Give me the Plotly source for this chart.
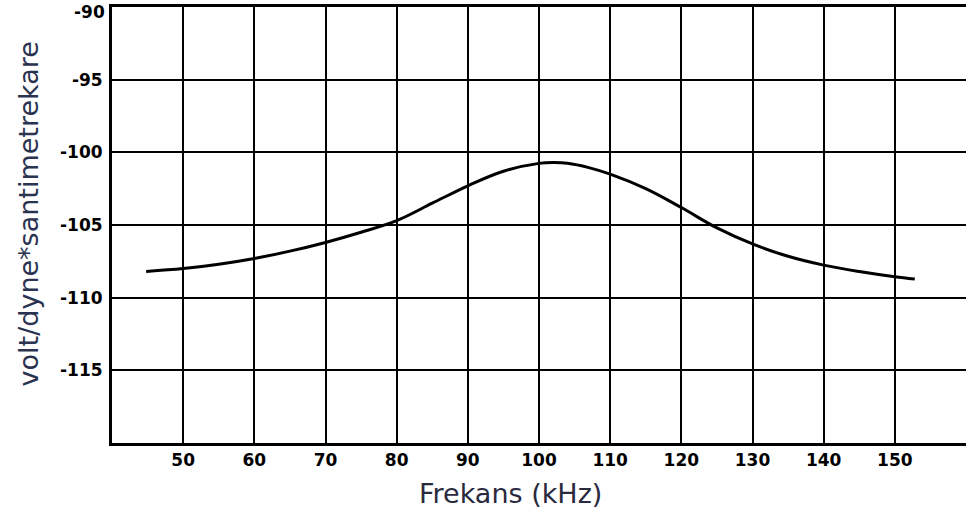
import plotly.graph_objects as go

# Data
freq_khz = [44.8, 50, 55, 60, 65, 70, 75, 80, 85, 90, 95, 100, 102, 104, 107, 110, 115, 120, 125, 130, 135, 140, 145, 150, 152.8]
response = [-108.2, -108.0, -107.7, -107.3, -106.8, -106.2, -105.5, -104.7, -103.5, -102.3, -101.3, -100.76, -100.7, -100.75, -101.05, -101.5, -102.5, -103.8, -105.2, -106.3, -107.15, -107.76, -108.2, -108.56, -108.72]

x_ticks = [50, 60, 70, 80, 90, 100, 110, 120, 130, 140, 150]
y_ticks = [-95, -100, -105, -110, -115]
y_tick_text = ["-95", "-100", "-105", "-110", "-115"]
y_top_text = "-90"

x_title = "Frekans (kHz)"
y_title = "volt/dyne*santimetrekare"

fig = go.Figure()
fig.add_trace(go.Scatter(
    x=freq_khz, y=response, mode="lines",
    line=dict(color="black", width=3, shape="spline", smoothing=1.0),
    hoverinfo="skip", showlegend=False,
))

tickfont = dict(family="DejaVu Sans", size=17, color="black", weight="bold")

fig.update_layout(
    width=966, height=514,
    margin=dict(l=112, r=0, t=7, b=71),
    paper_bgcolor="white", plot_bgcolor="white",
    showlegend=False,
    xaxis=dict(
        range=[40, 160], tickvals=x_ticks, ticktext=[str(v) for v in x_ticks],
        showgrid=True, gridcolor="black", gridwidth=1.8,
        showline=True, linecolor="black", linewidth=3, mirror=True,
        zeroline=False, ticks="", tickfont=tickfont, ticklabelstandoff=0,
    ),
    yaxis=dict(
        range=[-120, -90], tickvals=y_ticks, ticktext=y_tick_text,
        showgrid=True, gridcolor="black", gridwidth=1.8,
        showline=True, linecolor="black", linewidth=3,
        zeroline=False, ticks="", tickfont=tickfont, ticklabelstandoff=3,
    ),
    annotations=[
        dict(
            text=y_top_text, xref="paper", yref="paper", x=0, y=1,
            xanchor="right", yanchor="top", xshift=-5, yshift=7, showarrow=False,
            font=tickfont,
        ),
        dict(
            text=y_title, textangle=-90, xref="paper", yref="paper",
            x=-0.098, y=0.525, xanchor="center", yanchor="middle", showarrow=False,
            font=dict(family="DejaVu Sans", size=27, color="#2a3350"),
        ),
        dict(
            text=x_title, xref="paper", yref="paper",
            x=0.467, y=-0.115, xanchor="center", yanchor="middle", showarrow=False,
            font=dict(family="DejaVu Sans", size=27, color="#2a2a3e"),
        ),
    ],
)

fig.write_html("out.html")
